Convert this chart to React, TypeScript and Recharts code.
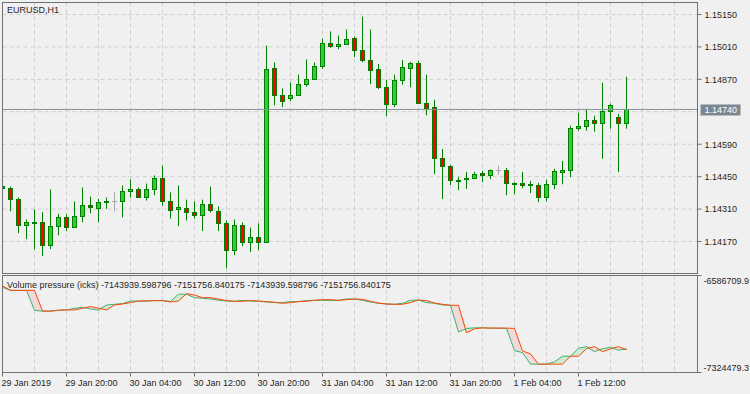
import React from "react"
import { ComposedChart, Bar, Line, Area, XAxis, YAxis, CartesianGrid, ReferenceLine } from "recharts"

// EURUSD H1, one entry per hourly bar starting 29 Jan 2019 12:00
const opens = [
  1.1441, 1.14402, 1.14354, 1.14242, 1.14252, 1.14256, 1.14156, 1.14236, 1.14277, 1.14234,
  1.14281, 1.14328, 1.14314, 1.1434, 1.14344, 1.14346, 1.14387, 1.14395, 1.14361, 1.14396,
  1.14445, 1.14346, 1.14309, 1.14315, 1.14298, 1.14285, 1.14333, 1.14303, 1.14251, 1.14133,
  1.14242, 1.14169, 1.1419, 1.14169, 1.1492, 1.14803, 1.1479, 1.14803, 1.14851, 1.14871,
  1.14929, 1.15028, 1.15013, 1.15024, 1.15049, 1.14998, 1.14954, 1.14916, 1.14838, 1.14765,
  1.14868, 1.1492, 1.14941, 1.14769, 1.14752, 1.14531, 1.14497, 1.14436, 1.14441, 1.14445,
  1.14467, 1.14458, 1.1448, 1.1448, 1.14423, 1.14423, 1.14416, 1.14415, 1.14361, 1.14417,
  1.14471, 1.1448, 1.14661, 1.1467, 1.14695, 1.14682, 1.14734, 1.14708, 1.14682,
]
const highs = [
  1.14413, 1.14407, 1.1436, 1.14265, 1.14308, 1.14297, 1.14395, 1.1429, 1.14287, 1.14343,
  1.14403, 1.14364, 1.14354, 1.1436, 1.14382, 1.14412, 1.14438, 1.14403, 1.1442, 1.14455,
  1.14498, 1.14382, 1.14412, 1.14351, 1.14343, 1.14351, 1.14407, 1.14321, 1.14261, 1.14265,
  1.14252, 1.1423, 1.14248, 1.15016, 1.14943, 1.14831, 1.14856, 1.14891, 1.14956, 1.14943,
  1.15045, 1.15077, 1.15059, 1.15085, 1.15055, 1.15141, 1.15085, 1.14937, 1.14868, 1.1489,
  1.14954, 1.14946, 1.1495, 1.1489, 1.14782, 1.1457, 1.14501, 1.14449, 1.14471, 1.14471,
  1.14475, 1.14481, 1.14497, 1.14488, 1.14426, 1.14471, 1.14432, 1.14423, 1.14436, 1.14484,
  1.14518, 1.1467, 1.14726, 1.14743, 1.14713, 1.14855, 1.14765, 1.14721, 1.14881,
]
const lows = [
  1.144, 1.14301, 1.14206, 1.1418, 1.14136, 1.14107, 1.14137, 1.14197, 1.14215, 1.14233,
  1.14253, 1.14292, 1.14253, 1.14311, 1.143, 1.14274, 1.1436, 1.14358, 1.14347, 1.1437,
  1.14325, 1.14269, 1.14236, 1.14261, 1.14269, 1.14215, 1.14295, 1.14215, 1.14054, 1.14111,
  1.1415, 1.14124, 1.14133, 1.14167, 1.14758, 1.1475, 1.14776, 1.14802, 1.14838, 1.14868,
  1.14916, 1.15006, 1.15, 1.15019, 1.14966, 1.14944, 1.14849, 1.14828, 1.14711, 1.1475,
  1.14847, 1.14836, 1.14767, 1.14715, 1.14461, 1.14353, 1.14414, 1.14392, 1.14397, 1.14444,
  1.14426, 1.14439, 1.14458, 1.1437, 1.14374, 1.144, 1.14379, 1.1434, 1.14344, 1.14396,
  1.14417, 1.14448, 1.14648, 1.14648, 1.14644, 1.14527, 1.14657, 1.14469, 1.14657,
]
const closes = [
  1.14402, 1.14354, 1.14242, 1.14256, 1.14254, 1.14156, 1.14238, 1.14277, 1.14234, 1.14281,
  1.14328, 1.1432, 1.14341, 1.14346, 1.14344, 1.14389, 1.14395, 1.14361, 1.14398, 1.14445,
  1.14346, 1.14305, 1.1432, 1.14298, 1.14285, 1.14333, 1.14305, 1.14251, 1.14133, 1.14242,
  1.14169, 1.1419, 1.14169, 1.14916, 1.14803, 1.14777, 1.14803, 1.14851, 1.14872, 1.14929,
  1.15028, 1.15013, 1.15024, 1.15045, 1.14998, 1.14954, 1.14911, 1.14838, 1.14765, 1.14868,
  1.14924, 1.14941, 1.14769, 1.14747, 1.14531, 1.14497, 1.14436, 1.14437, 1.14445, 1.14462,
  1.14458, 1.1448, 1.1448, 1.14423, 1.14424, 1.14413, 1.14417, 1.14361, 1.14419, 1.14475,
  1.1448, 1.14661, 1.1467, 1.14695, 1.14682, 1.14734, 1.1476, 1.14682, 1.1474,
]

// Volume pressure (ticks): main line and its signal
const pressure = [
  -6677322, -6699975, -6700120, -6699800, -6850995, -6858546, -6856281, -6850995, -6848730, -6835893,
  -6828342, -6841179, -6850995, -6810975, -6805689, -6800403, -6780771, -6780771, -6780500, -6777750,
  -6777750, -6783036, -6727914, -6730179, -6755097, -6760383, -6765669, -6775485, -6780771, -6783036,
  -6775485, -6780771, -6783036, -6788322, -6792852, -6792852, -6785301, -6785301, -6777750, -6775485,
  -6775485, -6777750, -6775485, -6765669, -6765669, -6775485, -6788322, -6798138, -6803424, -6805689,
  -6798138, -6775485, -6773220, -6792852, -6798138, -6810975, -6813240, -7017117, -6989178, -6984648,
  -6984648, -6986913, -6986913, -6989178, -7158321, -7173423, -7261014, -7261014, -7261014, -7243647,
  -7200606, -7200606, -7140198, -7128117, -7165872, -7143219, -7132647, -7155300, -7143939.6,
]
const signal = [
  -6665996, -6699500, -6699975, -6699800, -6699900, -6856281, -6858546, -6850995, -6848730, -6848730,
  -6835893, -6823056, -6835893, -6848730, -6810975, -6803424, -6792852, -6780771, -6780771, -6777750,
  -6777750, -6788322, -6780771, -6724893, -6735465, -6755097, -6755097, -6765669, -6777750, -6783036,
  -6783036, -6777750, -6780771, -6785301, -6790587, -6798138, -6792852, -6785301, -6783036, -6775485,
  -6770199, -6770199, -6775485, -6770199, -6765669, -6767934, -6783036, -6795873, -6803424, -6805689,
  -6805689, -6792852, -6773220, -6777750, -6795873, -6805689, -6813240, -6813240, -7022403, -6992199,
  -6984648, -6986913, -6986913, -6986913, -6989178, -7160586, -7183239, -7261014, -7261014, -7261014,
  -7261014, -7200606, -7200606, -7143219, -7128117, -7165872, -7145484, -7128117, -7151756.8,
]

const priceTicks = [1.1417, 1.1431, 1.1445, 1.1459, 1.1474, 1.1487, 1.1501, 1.1515]
const priceGrid = [1.1417, 1.1431, 1.1445, 1.1459, 1.1473, 1.1487, 1.1501, 1.1515]
const lastPrice = 1.1474
const timeTicks = [0, 8, 16, 24, 32, 40, 48, 56, 64, 72]
const timeLabels = [
  "29 Jan 2019", "29 Jan 20:00", "30 Jan 04:00", "30 Jan 12:00", "30 Jan 20:00",
  "31 Jan 04:00", "31 Jan 12:00", "31 Jan 20:00", "1 Feb 04:00", "1 Feb 12:00",
]
const timeGrid = [4, 8, 12, 16, 20, 24, 28, 32, 36, 40, 44, 48, 52, 56, 60, 64, 68, 72, 76, 80, 84]
const volTicks = [-7324479.3, -6586709.9]
const volLabels = ["-7324479.3", "-6586709.9"]
const volTitle = "Volume pressure (icks) -7143939.598796 -7151756.840175 -7143939.598796 -7151756.840175"

const candles = opens.map((open, i) => ({ i, open, high: highs[i], low: lows[i], close: closes[i] }))
const volume = pressure.map((g, i) => {
  const r = signal[i]
  const top = Math.max(g, r)
  return { i, g, r, down: [g, top], up: [r, top] }
})

const font = '"Liberation Sans", Arial, sans-serif'
const ink = "#262626"
const frame = "#707070"
const bg = "#f0f0f0"
const gridColor = "#cfcfcf"
const xDomain = [0, 86.875]

function Candle(props: any) {
  const { x, y, width, height, payload } = props
  if (!payload) return null
  const { open, close, high, low } = payload
  const top = Math.min(y, y + height)
  const span = Math.abs(height)
  const k = span / (high - low)
  const cx = x + width / 2
  const yo = top + (high - open) * k
  const yc = top + (high - close) * k
  if (open === close) {
    const yy = Math.round(yo) + 0.5
    return (
      <g>
        <line x1={cx} x2={cx} y1={top} y2={top + span} stroke="#a8a8a8" />
        <line x1={cx - 2.5} x2={cx + 2.5} y1={yy} y2={yy} stroke="#a8a8a8" />
      </g>
    )
  }
  const b0 = Math.round(Math.min(yo, yc)) + 0.5
  let b1 = Math.round(Math.max(yo, yc)) + 0.5
  if (b1 - b0 < 1) b1 = b0 + 1
  return (
    <g>
      <line x1={cx} x2={cx} y1={top} y2={top + span} stroke="#008000" />
      <rect x={cx - 2} y={b0} width={4} height={b1 - b0} fill={close > open ? "#32cd32" : "#ff0000"} stroke="#008000" />
    </g>
  )
}

function PriceTick(props: any) {
  const { x, y, payload } = props
  const v = payload.value
  if (v === lastPrice) {
    return (
      <g>
        <rect x={x - 4} y={y - 5} width={40} height={11} fill="#7b8894" />
        <text x={x} y={y} dy={3.3} fill="#ffffff" fontSize={9} fontFamily={font}>{v.toFixed(5)}</text>
      </g>
    )
  }
  return (
    <g>
      <line x1={x - 7} x2={x - 3} y1={y} y2={y} stroke={frame} />
      <text x={x} y={y} dy={3.3} fill={ink} fontSize={9} fontFamily={font}>{v.toFixed(5)}</text>
    </g>
  )
}

function VolTick(props: any) {
  const { x, y, payload, index } = props
  return (
    <g>
      <line x1={x - 7} x2={x - 3} y1={y} y2={y} stroke={frame} />
      <text x={x - 1} y={y} dy={index === 0 ? -1.6 : 8.6} fill={ink} fontSize={9} fontFamily={font}>
        {volLabels[volTicks.indexOf(payload.value)]}
      </text>
    </g>
  )
}

function TimeTick(props: any) {
  const { x, y, payload } = props
  return (
    <text x={x - 1} y={y + 7} fill={ink} fontSize={9} fontFamily={font} textAnchor="start">
      {timeLabels[timeTicks.indexOf(payload.value)]}
    </text>
  )
}

export default function App() {
  return (
    <div style={{ position: "absolute", left: 0, top: 0, width: 750, height: 394, background: bg, overflow: "hidden" }}>
      <div style={{ position: "absolute", left: 0, top: 0 }}>
        <ComposedChart width={750} height={274} data={candles} margin={{ top: 2.5, right: 0, bottom: 0.5, left: 2.5 }}>
          <CartesianGrid stroke={gridColor} strokeDasharray="4 3" horizontalValues={priceGrid} verticalValues={timeGrid} />
          <XAxis dataKey="i" type="number" domain={xDomain} ticks={timeGrid} allowDataOverflow hide />
          <YAxis
            orientation="right"
            type="number"
            width={52.5}
            domain={[1.140319, 1.152018]}
            ticks={priceTicks}
            interval={0}
            allowDataOverflow
            axisLine={false}
            tickLine={false}
            tickSize={4}
            tickMargin={3}
            tick={<PriceTick />}
          />
          <ReferenceLine y={lastPrice} stroke="#8a929a" ifOverflow="hidden" />
          <Bar dataKey={(d: any) => [d.low, d.high]} barSize={4} shape={<Candle />} isAnimationActive={false} />
        </ComposedChart>
      </div>
      <div style={{ position: "absolute", left: 0, top: 274 }}>
        <ComposedChart width={750} height={120} data={volume} margin={{ top: 1.5, right: 0, bottom: 0, left: 2.5 }}>
          <CartesianGrid stroke={gridColor} strokeDasharray="4 3" horizontal={false} verticalValues={timeGrid} />
          <XAxis
            dataKey="i"
            type="number"
            domain={xDomain}
            ticks={timeTicks}
            interval={0}
            allowDataOverflow
            height={21.5}
            axisLine={false}
            tickLine={{ stroke: frame }}
            tickSize={4}
            tickMargin={2}
            tick={<TimeTick />}
          />
          <YAxis
            orientation="right"
            type="number"
            width={52.5}
            domain={[-7324479.3, -6586709.9]}
            ticks={volTicks}
            interval={0}
            allowDataOverflow
            axisLine={false}
            tickLine={false}
            tickSize={4}
            tickMargin={3}
            tick={<VolTick />}
          />
          <Area dataKey="down" type="linear" stroke="none" fill="#efd9d9" fillOpacity={1} isAnimationActive={false} />
          <Area dataKey="up" type="linear" stroke="none" fill="#cdebd2" fillOpacity={1} isAnimationActive={false} />
          <Line dataKey="g" type="linear" stroke="#3cb371" strokeWidth={1} dot={false} isAnimationActive={false} />
          <Line dataKey="r" type="linear" stroke="#ff4500" strokeWidth={1} dot={false} isAnimationActive={false} />
        </ComposedChart>
      </div>
      <div style={{ position: "absolute", left: 2, top: 2, width: 696, height: 272, boxSizing: "border-box", border: `1px solid ${frame}` }} />
      <div style={{ position: "absolute", left: 2, top: 275, width: 696, height: 98, boxSizing: "border-box", border: `1px solid ${frame}` }} />
      <div style={{ position: "absolute", left: 7, top: 4.5, font: `9px ${font}`, lineHeight: "10px", color: ink, whiteSpace: "nowrap" }}>
        EURUSD,H1
      </div>
      <div style={{ position: "absolute", left: 7, top: 280, font: `9px ${font}`, lineHeight: "10px", color: ink, whiteSpace: "nowrap" }}>
        {volTitle}
      </div>
    </div>
  )
}
